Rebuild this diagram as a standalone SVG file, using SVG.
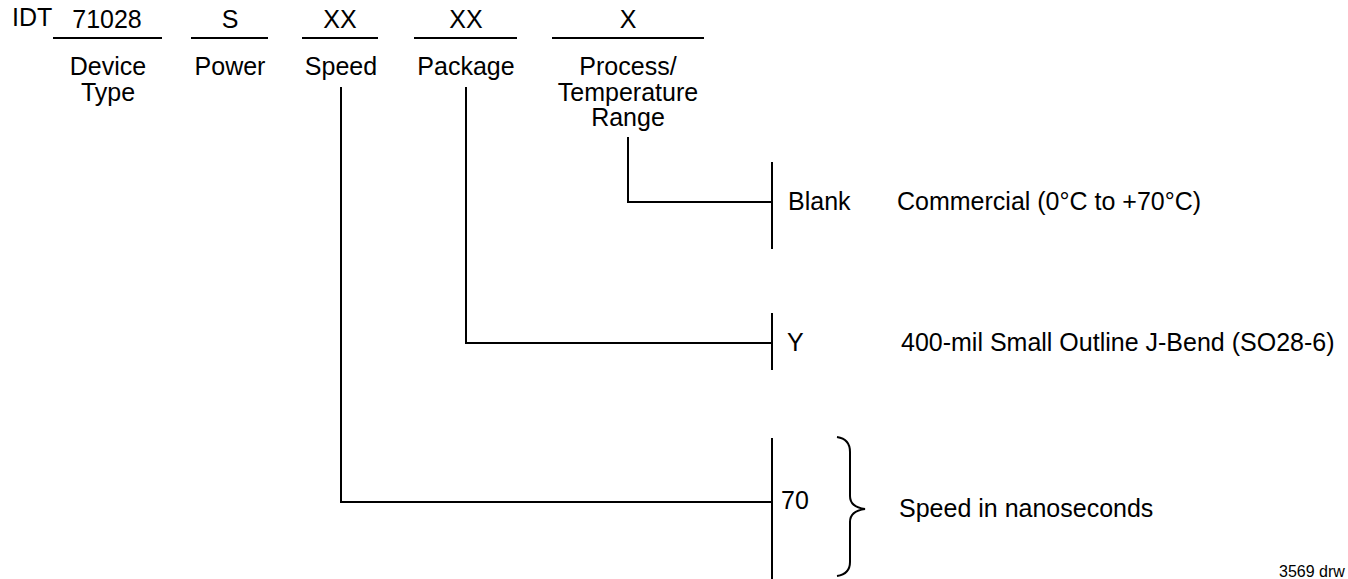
<svg xmlns="http://www.w3.org/2000/svg" width="1348" height="579" viewBox="0 0 1348 579">
<style>
text{font-family:"Liberation Sans",Arial,sans-serif;font-size:25px;fill:#000}
.m{text-anchor:middle}
.sm{font-size:16px}
.ln{stroke:#000;stroke-width:2;fill:none}
</style>
<rect width="1348" height="579" fill="#fff"/>
<g id="header">
<text x="12" y="26">IDT</text>
</g>
<g id="device-type">
<text class="m" x="107" y="28">71028</text>
<line class="ln" x1="53" y1="38" x2="162" y2="38"/>
<text class="m" x="108" y="75">Device</text>
<text class="m" x="108" y="100.5">Type</text>
</g>
<g id="power">
<text class="m" x="230" y="28">S</text>
<line class="ln" x1="191" y1="38" x2="268" y2="38"/>
<text class="m" x="230" y="75">Power</text>
</g>
<g id="speed">
<text class="m" x="340" y="28">XX</text>
<line class="ln" x1="302" y1="38" x2="378" y2="38"/>
<text class="m" x="341" y="75">Speed</text>
</g>
<g id="package">
<text class="m" x="466" y="28">XX</text>
<line class="ln" x1="414" y1="38" x2="517" y2="38"/>
<text class="m" x="466" y="75">Package</text>
</g>
<g id="process">
<text class="m" x="628" y="28">X</text>
<line class="ln" x1="552" y1="38" x2="704" y2="38"/>
<text class="m" x="628" y="75">Process/</text>
<text class="m" x="628" y="100.5">Temperature</text>
<text class="m" x="628" y="126">Range</text>
</g>
<g id="connectors">
<path class="ln" d="M628,137 V202 H772"/>
<path class="ln" d="M466,87 V343 H772"/>
<path class="ln" d="M341,87 V502 H772"/>
</g>
<g id="opt-blank">
<line class="ln" x1="772" y1="162" x2="772" y2="249"/>
<text x="788" y="210">Blank</text>
<text x="897" y="210">Commercial (0°C to +70°C)</text>
</g>
<g id="opt-y">
<line class="ln" x1="772" y1="313" x2="772" y2="370"/>
<text x="787" y="351">Y</text>
<text x="901" y="351">400-mil Small Outline J-Bend (SO28-6)</text>
</g>
<g id="opt-70">
<line class="ln" x1="772" y1="438" x2="772" y2="579"/>
<text x="781" y="509">70</text>
<path class="ln" d="M837,437 Q850,439 850,452 V496 Q850,507 865,509 Q850,511 850,522 V562 Q850,574 837,576"/>
<text x="899" y="517">Speed in nanoseconds</text>
</g>
<g id="footer">
<text class="sm" x="1279" y="577">3569 drw</text>
</g>
</svg>
